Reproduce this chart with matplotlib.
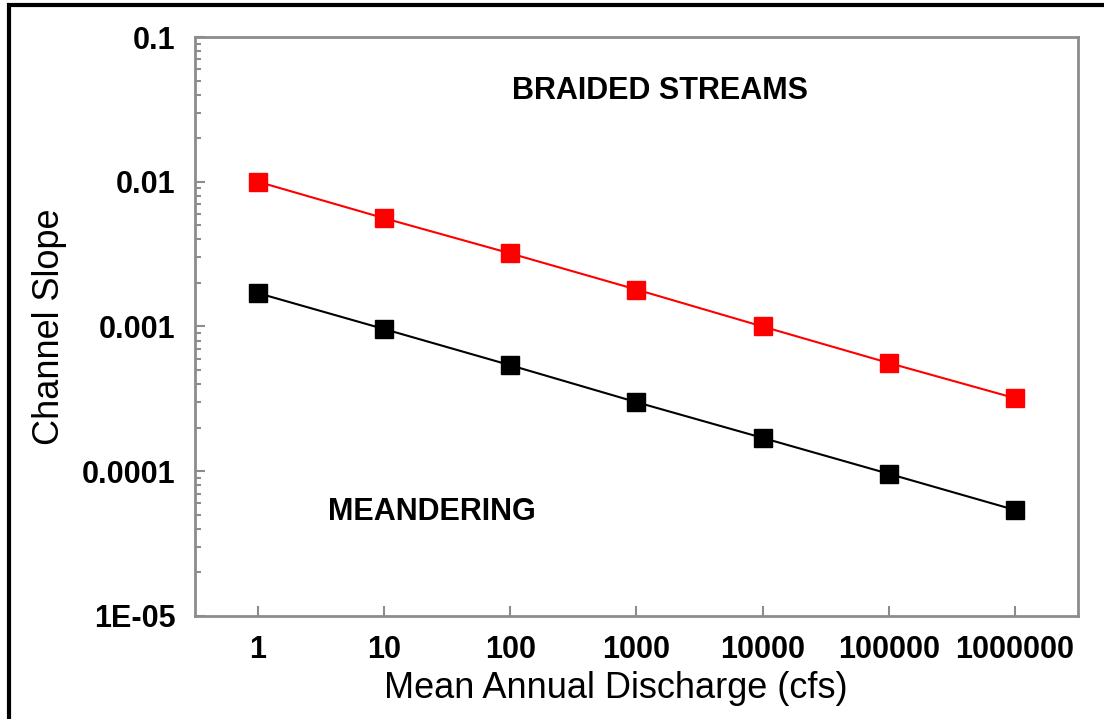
import numpy as np
import matplotlib
matplotlib.use("Agg")
import matplotlib.pyplot as plt
from matplotlib.patches import Rectangle
from matplotlib.ticker import LogLocator, FixedLocator, FixedFormatter, NullLocator

plt.rcParams['font.family'] = ['Liberation Sans', 'DejaVu Sans']

# Lane's relation, values
discharge = [1, 10, 100, 1000, 10000, 100000, 1000000]
braided_slope = [0.01, 0.0056, 0.0032, 0.0018, 0.001, 0.00056, 0.00032]
meander_slope = [0.0017, 0.00096, 0.00054, 0.0003, 0.00017, 0.000096, 0.000054]
x_labels = ['1', '10', '100', '1000', '10000', '100000', '1000000']
y_ticks = [1e-5, 1e-4, 1e-3, 1e-2, 1e-1]
y_labels = ['1E-05', '0.0001', '0.001', '0.01', '0.1']

fig = plt.figure(figsize=(11.04, 7.19), dpi=100)
ax = fig.add_axes([0.1766, 0.1433, 0.7998, 0.8052])

ax.plot(discharge, braided_slope, '-s', color='red', lw=1.5, ms=13, mec='red')
ax.plot(discharge, meander_slope, '-s', color='black', lw=1.5, ms=13, mec='black')

ax.set_xscale('log')
ax.set_yscale('log')
ax.set_xlim(10 ** -0.5, 10 ** 6.5)
ax.set_ylim(1e-5, 0.1)

ax.xaxis.set_major_locator(FixedLocator(discharge))
ax.xaxis.set_major_formatter(FixedFormatter(x_labels))
ax.xaxis.set_minor_locator(NullLocator())
ax.yaxis.set_major_locator(FixedLocator(y_ticks))
ax.yaxis.set_major_formatter(FixedFormatter(y_labels))
ax.yaxis.set_minor_locator(LogLocator(base=10, subs=np.arange(2, 10), numticks=20))

gray = '#8c8c8c'
for s in ax.spines.values():
    s.set_color(gray)
    s.set_linewidth(2)
ax.tick_params(which='major', direction='in', length=7, width=1.5, color=gray,
               pad=14, labelsize=22)
ax.tick_params(which='minor', direction='in', length=4.5, width=1.5, color=gray)
ax.tick_params(axis='y', which='both', right=False)
ax.tick_params(axis='x', which='both', top=False)
for lab in ax.get_xticklabels() + ax.get_yticklabels():
    lab.set_fontweight('bold')

ax.set_xlabel('Mean Annual Discharge (cfs)', fontsize=26, labelpad=4)
ax.xaxis.label.set_x(0.477)
ax.set_ylabel('Channel Slope', fontsize=26, labelpad=11)

ax.text(0.527, 0.907, 'BRAIDED STREAMS', transform=ax.transAxes, ha='center',
        va='center', fontsize=22, fontweight='bold')
ax.text(0.268, 0.18, 'MEANDERING', transform=ax.transAxes, ha='center',
        va='center', fontsize=22, fontweight='bold')

# outer frame, cut off at right and bottom like the source image
fig.patches.append(Rectangle((8.5 / 1104, -0.1), 1.2, 1.1 - 4.5 / 719,
                             transform=fig.transFigure, fill=False,
                             edgecolor='black', linewidth=3, clip_on=False))

fig.savefig('out.png', dpi=100)
